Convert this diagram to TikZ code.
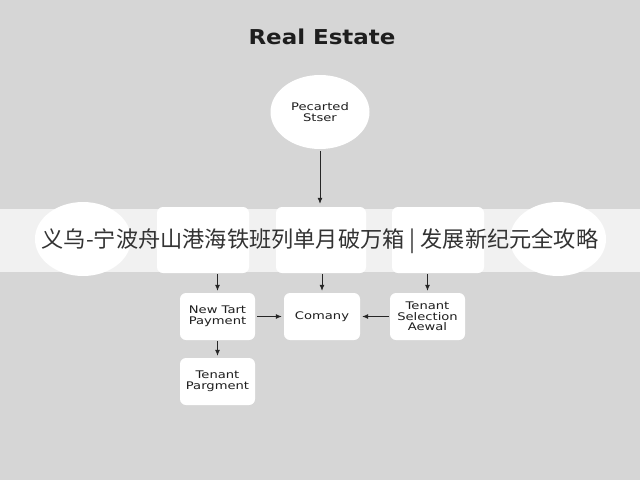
\documentclass[tikz,border=0pt]{standalone}
\usepackage{fontspec}
\setmainfont{DejaVu Sans}
\newfontfamily\cjk{Noto Sans CJK SC}
\newfontfamily\nodefont[FakeStretch=1.25]{DejaVu Sans}
\newfontfamily\titlefont[FakeStretch=1.12]{DejaVu Sans}
\usetikzlibrary{arrows.meta,shapes.geometric}
\definecolor{bgc}{RGB}{214,214,214}
\definecolor{txt}{RGB}{30,30,30}
\tikzset{
  card/.style={fill=white, rounded corners=6pt, inner sep=0pt, align=center,
    font=\nodefont\fontsize{10.5}{10.5}\selectfont, text=txt},
  oval/.style={ellipse, fill=white, inner sep=0pt, align=center,
    font=\nodefont\fontsize{10.5}{11}\selectfont, text=txt},
  link/.style={draw=black!85, line width=0.8pt, -{Latex[length=6pt,width=5pt]}},
}
\begin{document}
\begin{tikzpicture}[x=1pt,y=-1pt]
\useasboundingbox (0,0) rectangle (640,480);
\fill[bgc] (0,0) rectangle (640,480);
\node[font=\titlefont\bfseries\fontsize{20.5}{22}\selectfont, text=txt] (title) at (322,37) {Real Estate};
\node[oval, minimum width=99pt, minimum height=74pt] (top) at (320,112) {Pecarted\\Stser};
% row covered by the banner
\node[oval, minimum width=96pt, minimum height=74pt] (c1) at (83,239) {};
\node[card, minimum width=92pt, minimum height=66pt] (b2) at (203,240) {};
\node[card, minimum width=90pt, minimum height=66pt] (b3) at (321,240) {};
\node[card, minimum width=92pt, minimum height=66pt] (b4) at (438,240) {};
\node[oval, minimum width=96pt, minimum height=74pt] (c5) at (558,239) {};
% lower boxes
\node[card, minimum width=75pt, minimum height=47pt] (ntp) at (217.5,316.5) {New Tart\\Payment};
\node[card, minimum width=76pt, minimum height=47pt] (com) at (322,316.5) {Comany};
\node[card, minimum width=75pt, minimum height=47pt] (tsa) at (427.5,316.5) {Tenant\\Selection\\Aewal};
\node[card, minimum width=75pt, minimum height=47pt] (tp) at (217.5,381.5) {Tenant\\Pargment};
% connectors
\draw[link, shorten <=2pt, shorten >=3pt] (top) -- (b3.north -| top.south);
\draw[link, shorten <=1pt, shorten >=2pt] (ntp.north |- b2.south) -- (ntp.north);
\draw[link, shorten <=1pt, shorten >=2pt] (com.north |- b3.south) -- (com.north);
\draw[link, shorten <=1pt, shorten >=2pt] (tsa.north |- b4.south) -- (tsa.north);
\draw[link, shorten <=1pt, shorten >=2pt] (ntp.south) -- (tp.north);
\draw[link, shorten <=2pt, shorten >=2pt] (ntp.east) -- (com.west);
\draw[link, shorten <=1pt, shorten >=2pt] (tsa.west) -- (com.east);
% banner
\fill[white, opacity=0.68] (0,209) rectangle (640,272);
\node[font=\cjk\fontsize{22.2}{24}\selectfont, text=black!80] (banner) at (320,241) {义乌-宁波舟山港海铁班列单月破万箱 | 发展新纪元全攻略};
\end{tikzpicture}
\end{document}
